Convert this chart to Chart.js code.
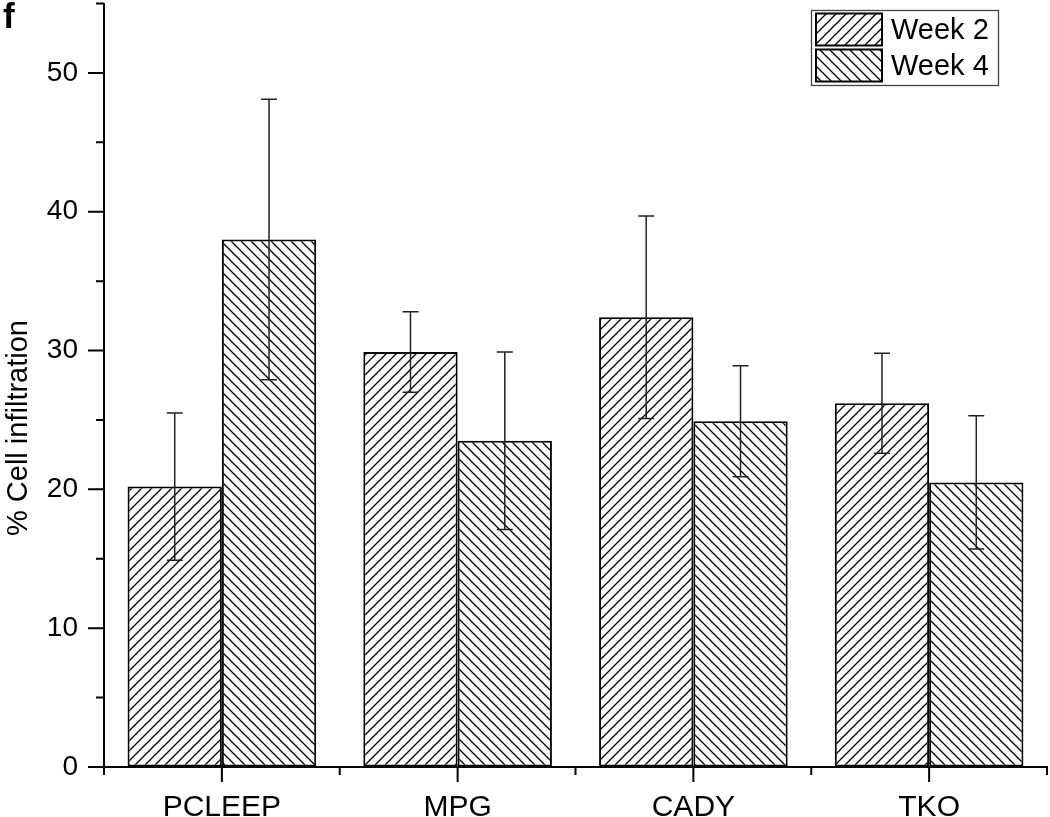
<!DOCTYPE html>
<html>
<head>
<meta charset="utf-8">
<script src="https://cdn.jsdelivr.net/npm/chart.js@4.4.0/dist/chart.umd.min.js"></script>
<style>
  html, body { margin: 0; padding: 0; background: #fff; }
  #wrap { width: 1050px; height: 817px; position: relative; }
</style>
</head>
<body>
<div id="wrap"><canvas id="cellChart"></canvas></div>
<script>
// data
const categories = ['PCLEEP', 'MPG', 'CADY', 'TKO'];
const seriesNames = ['Week 2', 'Week 4'];
const week2 = [20.2, 29.9, 32.4, 26.2];
const week4 = [38.0, 23.5, 24.9, 20.5];
const week2Err = [5.3, 2.9, 7.3, 3.6];
const week4Err = [10.1, 6.4, 4.0, 4.8];
const yTicks = [0, 10, 20, 30, 40, 50];

const FONT = '"Liberation Sans", Arial, sans-serif';

// hatch patterns: '/' for week 2, '\' for week 4
function makeHatch(forward) {
    const size = 10;
    const c = document.createElement('canvas');
    c.width = size; c.height = size;
    const g = c.getContext('2d');
    g.fillStyle = '#fff';
    g.fillRect(0, 0, size, size);
    g.strokeStyle = '#000';
    g.lineWidth = 1.3;
    g.beginPath();
    if (forward) {
        g.moveTo(-2, size + 2); g.lineTo(size + 2, -2);
        g.moveTo(-2, 2); g.lineTo(2, -2);
        g.moveTo(size - 2, size + 2); g.lineTo(size + 2, size - 2);
    } else {
        g.moveTo(-2, -2); g.lineTo(size + 2, size + 2);
        g.moveTo(size - 2, -2); g.lineTo(size + 2, 2);
        g.moveTo(-2, size - 2); g.lineTo(2, size + 2);
    }
    g.stroke();
    return g.createPattern(c, 'repeat');
}

const ctx = document.getElementById('cellChart');
const patterns = [makeHatch(true), makeHatch(false)];
const errors = [week2Err, week4Err];

// error bars, axis ticks, legend and panel letter
const extrasPlugin = {
    id: 'extras',
    afterDatasetsDraw(chart) {
        const g = chart.ctx;
        const y = chart.scales.y;
        g.save();
        g.strokeStyle = '#222';
        g.lineWidth = 1.5;
        chart.data.datasets.forEach((ds, i) => {
            chart.getDatasetMeta(i).data.forEach((bar, j) => {
                const v = ds.data[j], e = errors[i][j];
                const top = y.getPixelForValue(v + e);
                const bot = y.getPixelForValue(v - e);
                g.beginPath();
                g.moveTo(bar.x, top); g.lineTo(bar.x, bot);
                g.moveTo(bar.x - 8, top); g.lineTo(bar.x + 8, top);
                g.moveTo(bar.x - 8, bot); g.lineTo(bar.x + 8, bot);
                g.stroke();
            });
        });
        g.restore();
    },
    afterDraw(chart) {
        const g = chart.ctx;
        const area = chart.chartArea;
        const x = chart.scales.x;
        const y = chart.scales.y;
        g.save();
        g.strokeStyle = '#000';
        g.lineWidth = 2;
        g.beginPath();
        // y ticks: major every 10, minor every 5
        for (let v = 0; v <= 55; v += 5) {
            const py = y.getPixelForValue(v);
            const len = v % 10 === 0 ? 16 : 8;
            g.moveTo(area.left - len, py); g.lineTo(area.left, py);
        }
        // x ticks: major at category centres, minor at boundaries
        categories.forEach((c, i) => {
            const px = x.getPixelForValue(i);
            g.moveTo(px, area.bottom); g.lineTo(px, area.bottom + 15);
        });
        const step = (area.right - area.left) / categories.length;
        for (let i = 0; i <= categories.length; i++) {
            const px = area.left + i * step;
            g.moveTo(px, area.bottom); g.lineTo(px, area.bottom + 8);
        }
        g.stroke();

        // y axis title
        g.fillStyle = '#000';
        g.font = '29px ' + FONT;
        g.textAlign = 'center';
        g.textBaseline = 'alphabetic';
        g.translate(27, 428);
        g.rotate(-Math.PI / 2);
        g.fillText('% Cell infiltration', 0, 0);
        g.restore();

        // panel letter
        g.save();
        g.fillStyle = '#000';
        g.font = 'bold 35px ' + FONT;
        g.textBaseline = 'alphabetic';
        g.fillText('f', 3, 28);
        g.restore();

        // legend
        g.save();
        g.strokeStyle = '#444';
        g.lineWidth = 1.3;
        g.strokeRect(811.5, 10.5, 187, 75);
        seriesNames.forEach((name, i) => {
            const top = 13.5 + i * 36;
            g.fillStyle = patterns[i];
            g.fillRect(815, top, 67, 32);
            g.strokeStyle = '#000';
            g.lineWidth = 2;
            g.strokeRect(816, top, 66, 32);
            g.fillStyle = '#000';
            g.font = '29px ' + FONT;
            g.textAlign = 'left';
            g.textBaseline = 'middle';
            g.fillText(name, 891, top + 17);
        });
        g.restore();
    }
};

new Chart(ctx, {
    type: 'bar',
    data: {
        labels: categories,
        datasets: [
            { label: seriesNames[0], data: week2, backgroundColor: patterns[0] },
            { label: seriesNames[1], data: week4, backgroundColor: patterns[1] }
        ]
    },
    options: {
        responsive: true,
        maintainAspectRatio: false,
        animation: false,
        events: [],
        layout: { padding: { left: 0, right: 3, top: 3.5, bottom: 0 } },
        datasets: {
            bar: {
                borderColor: '#000',
                borderWidth: 2,
                borderSkipped: false,
                barPercentage: 1,
                categoryPercentage: 0.8
            }
        },
        plugins: {
            legend: { display: false },
            tooltip: { enabled: false }
        },
        scales: {
            x: {
                offset: true,
                grid: { display: true, drawOnChartArea: false, color: 'rgba(0,0,0,0)', tickLength: 15 },
                border: { display: true, color: '#000', width: 2 },
                ticks: {
                    color: '#000',
                    padding: 8,
                    font: { family: FONT, size: 30 },
                    maxRotation: 0
                },
                afterFit(s) { s.height = 50; }
            },
            y: {
                min: 0,
                max: 55,
                grid: { display: true, drawOnChartArea: false, color: 'rgba(0,0,0,0)', tickLength: 26 },
                border: { display: true, color: '#000', width: 2 },
                ticks: {
                    stepSize: 5,
                    autoSkip: false,
                    color: '#000',
                    padding: 0,
                    font: { family: FONT, size: 28, lineHeight: 0.2 },
                    callback: v => yTicks.includes(v) ? String(v) : ''
                },
                afterFit(s) { s.width = 104; }
            }
        }
    },
    plugins: [extrasPlugin]
});
</script>
</body>
</html>
